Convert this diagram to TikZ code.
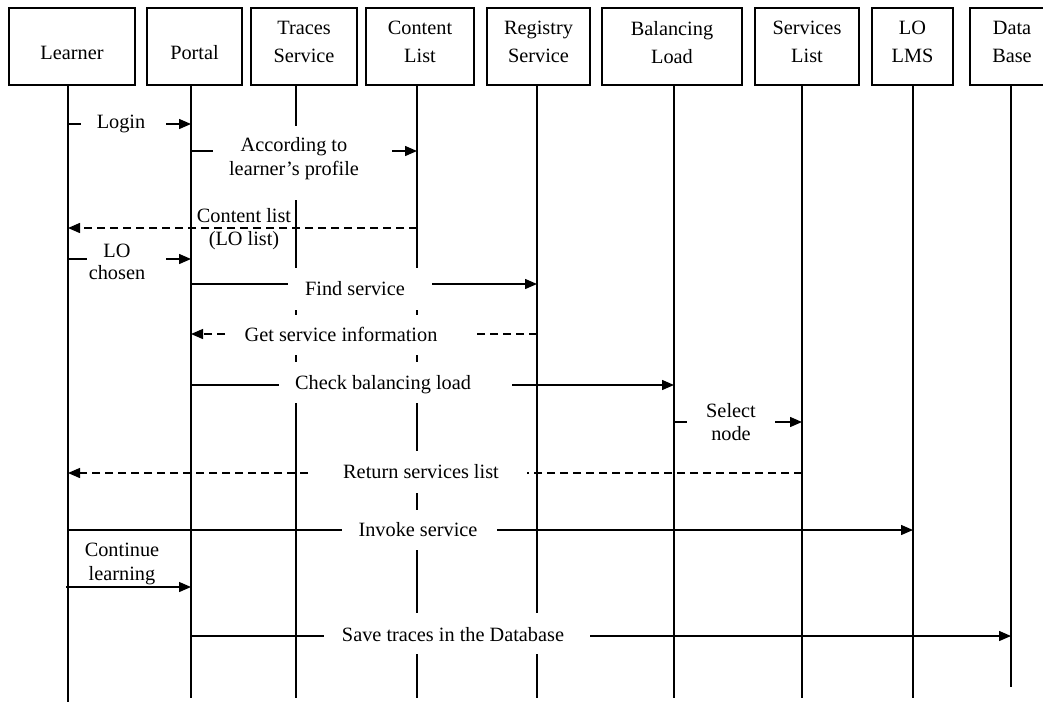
\documentclass[tikz,border=0pt]{standalone}
\usepackage{fontspec}
\setmainfont{Liberation Serif}
\usetikzlibrary{arrows.meta}
\begin{document}
\begin{tikzpicture}[x=1pt,y=-1pt,
  every node/.style={font=\fontsize{20.3}{23.5}\selectfont, inner sep=0pt},
  head/.style={draw, line width=1.3pt, minimum height=77pt},
  lifeline/.style={line width=1.4pt},
  msg/.style={line width=1.4pt, -{Triangle[length=12pt,width=10pt]}},
  reply/.style={msg, dash pattern=on 8pt off 5pt},
  gapfill/.style={fill=white},
  lbl/.style={align=center},
]
\useasboundingbox (0,0) rectangle (1043,702);

% participant boxes
\node[head, minimum width=126pt] (learner)   at (72,46.5)    {};
\node[head, minimum width=95pt]  (portal)    at (194.5,46.5) {};
\node[head, minimum width=106pt] (traces)    at (304,46.5)   {};
\node[head, minimum width=108pt] (content)   at (420,46.5)   {};
\node[head, minimum width=103pt] (registry)  at (538.5,46.5) {};
\node[head, minimum width=140pt] (balancing) at (672,46.5)   {};
\node[head, minimum width=104pt] (services)  at (807,46.5)   {};
\node[head, minimum width=81pt]  (lolms)     at (912.5,46.5) {};
\node[head, minimum width=84pt]  (database)  at (1012,46.5)  {};

\node[lbl] (learner-t)   at (72,53)     {Learner};
\node[lbl] (portal-t)    at (194.5,53)  {Portal};
\node[lbl] (traces-t)    at (304,42.3)  {Traces\\[4.5pt]Service};
\node[lbl] (content-t)   at (420,42.3)  {Content\\[4.5pt]List};
\node[lbl] (registry-t)  at (538.5,42.3){Registry\\[4.5pt]Service};
\node[lbl] (balancing-t) at (672,42.3)  {Balancing\\[4.5pt]Load};
\node[lbl] (services-t)  at (807,42.3)  {Services\\[4.5pt]List};
\node[lbl] (lolms-t)     at (912.5,42.3){LO\\[4.5pt]LMS};
\node[lbl] (database-t)  at (1012,42.3) {Data\\[4.5pt]Base};

% lifeline ends
\coordinate (learner-top)   at (68,85);   \coordinate (learner-bot)   at (68,702);
\coordinate (portal-top)    at (191,85);  \coordinate (portal-bot)    at (191,698);
\coordinate (traces-top)    at (296,85);  \coordinate (traces-bot)    at (296,698);
\coordinate (content-top)   at (417,85);  \coordinate (content-bot)   at (417,698);
\coordinate (registry-top)  at (537,85);  \coordinate (registry-bot)  at (537,698);
\coordinate (balancing-top) at (674,85);  \coordinate (balancing-bot) at (674,698);
\coordinate (services-top)  at (802,85);  \coordinate (services-bot)  at (802,698);
\coordinate (lolms-top)     at (913,85);  \coordinate (lolms-bot)     at (913,698);
\coordinate (database-top)  at (1011,85); \coordinate (database-bot)  at (1011,687);

\foreach \p in {learner,portal,traces,content,registry,balancing,services,lolms,database}
  \draw[lifeline] (\p-top) -- (\p-bot);

% messages
\draw[msg]   (learner-top |- 0,124)  -- (portal-top |- 0,124);
\draw[msg]   (portal-top |- 0,151)   -- (content-top |- 0,151);
\draw[reply] (content-top |- 0,228)  -- (learner-top |- 0,228);
\draw[msg]   (learner-top |- 0,259)  -- (portal-top |- 0,259);
\draw[msg]   (portal-top |- 0,284)   -- (registry-top |- 0,284);
\draw[reply] (registry-top |- 0,334) -- (portal-top |- 0,334);
\draw[msg]   (portal-top |- 0,385)   -- (balancing-top |- 0,385);
\draw[msg]   (balancing-top |- 0,422)-- (services-top |- 0,422);
\draw[reply] (services-top |- 0,473) -- (learner-top |- 0,473);
\draw[msg]   (learner-top |- 0,530)  -- (lolms-top |- 0,530);
\draw[msg]   ([xshift=-2pt]learner-top |- 0,587) -- (portal-top |- 0,587);
\draw[msg]   (portal-top |- 0,636)   -- (database-top |- 0,636);

% blank areas behind the message texts
\fill[gapfill] (81,110)  rectangle (166,138);
\fill[gapfill] (213,126) rectangle (392,200);
\fill[gapfill] (87,240)  rectangle (166,282);
\fill[gapfill] (288,268) rectangle (432,310);
\fill[gapfill] (227,315) rectangle (476,355);
\fill[gapfill] (279,362) rectangle (512,403);
\fill[gapfill] (687,400) rectangle (775,445);
\fill[gapfill] (311,451) rectangle (527,493);
\fill[gapfill] (342,510) rectangle (497,550);
\fill[gapfill] (324,613) rectangle (590,654);

% message texts
\node[lbl] (m-login)    at (121,124)   {Login};
\node[lbl] (m-profile)  at (294,158.5) {According to\\learner’s profile};
\node[lbl] (m-content)  at (244,229)   {Content list\\(LO list)};
\node[lbl] (m-lo)       at (117,262)   {LO\\[-2pt]chosen};
\node[lbl] (m-find)     at (355,289)   {Find service};
\node[lbl] (m-get)      at (341,334)   {Get service information};
\node[lbl] (m-check)    at (383,385)   {Check balancing load};
\node[lbl] (m-select)   at (731,422)   {Select\\node};
\node[lbl] (m-return)   at (421,472)   {Return services list};
\node[lbl] (m-invoke)   at (418,530)   {Invoke service};
\node[lbl] (m-continue) at (122,564)   {Continue\\learning};
\node[lbl] (m-save)     at (453,635)   {Save traces in the Database};
\end{tikzpicture}
\end{document}
